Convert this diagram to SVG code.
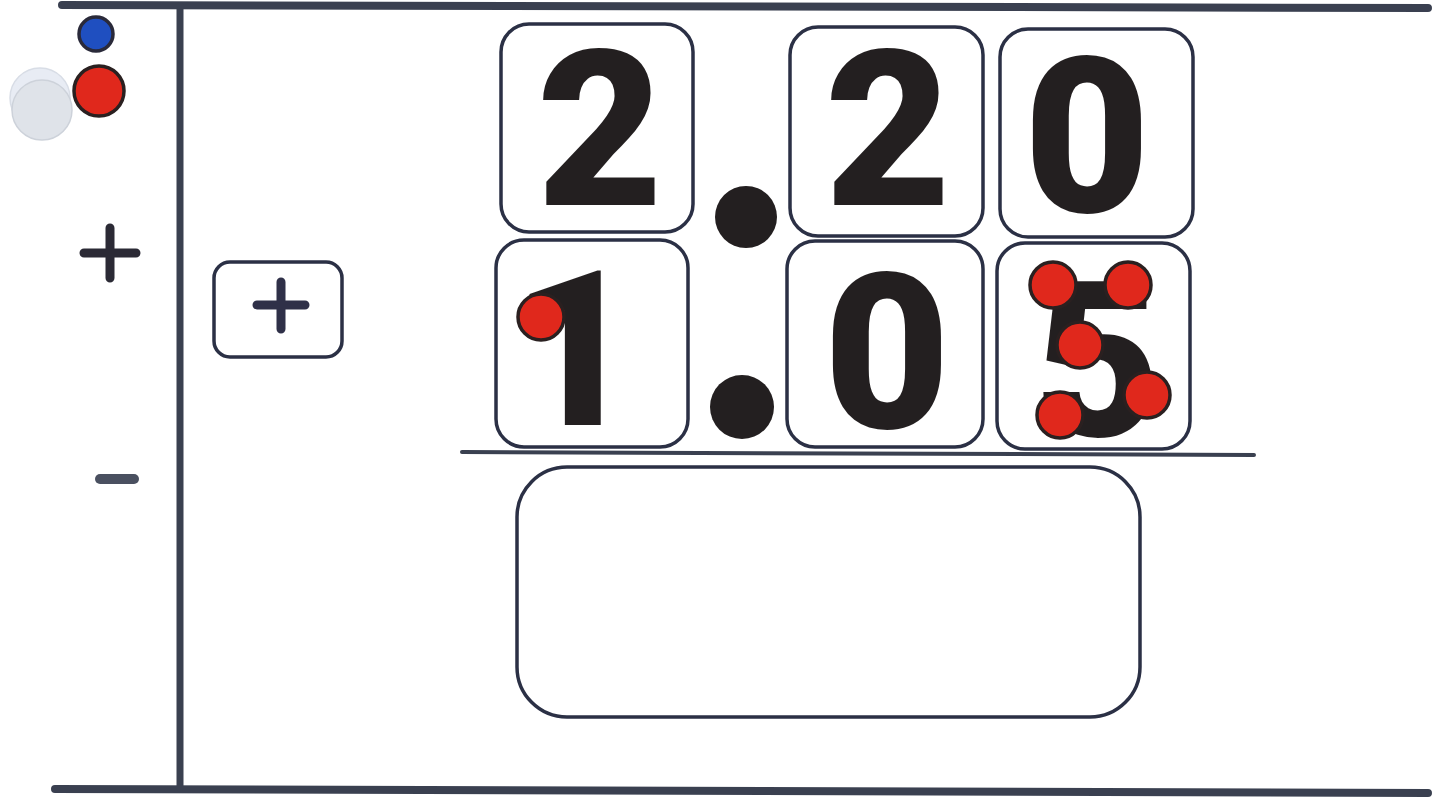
<svg xmlns="http://www.w3.org/2000/svg" width="1437" height="803" viewBox="0 0 1437 803">
<style>
.box{fill:#fff;stroke:#2b3045;stroke-width:3.5}
.dig{font-family:Roboto,"Liberation Sans",Arial,sans-serif;font-weight:900;fill:#231f20;text-anchor:middle}
.rd{fill:#e0281c;stroke:#2a2020;stroke-width:3.5}
.ln{stroke:#3a4050;stroke-linecap:round}
</style>
<rect width="1437" height="803" fill="#fff"/>
<g id="frame">
<line class="ln" x1="62" y1="5" x2="1428" y2="8" stroke-width="8"/>
<line class="ln" x1="55" y1="789" x2="1428" y2="793" stroke-width="8"/>
<line class="ln" x1="180" y1="6" x2="180" y2="788" stroke-width="7"/>
</g>
<g id="counters">
<circle cx="40" cy="98" r="30" fill="#e8ecf4" stroke="#d8dde6" stroke-width="1.5"/>
<circle cx="42" cy="110" r="30" fill="#dfe3e9" stroke="#cdd2da" stroke-width="1.5"/>
<circle cx="96" cy="34" r="17" fill="#1f4fc0" stroke="#2a2a3a" stroke-width="3.5"/>
<circle cx="99" cy="91" r="25" class="rd"/>
</g>
<g id="signs">
<path d="M84 253 H136 M110 228 V278" stroke="#2b2a35" stroke-width="9" stroke-linecap="round"/>
<path d="M100 479 H134" stroke="#4a5060" stroke-width="10" stroke-linecap="round"/>
</g>
<g id="plus-box">
<rect class="box" x="214" y="262" width="128" height="95" rx="16"/>
<path d="M257 305 H305 M281 282 V329" stroke="#2f3048" stroke-width="9" stroke-linecap="round"/>
</g>
<g id="digit-2a">
<rect class="box" x="501" y="24" width="192" height="208" rx="28"/>
<text class="dig" x="600" y="205" font-size="218">2</text>
</g>
<g id="point-top"><circle cx="746" cy="217" r="31" fill="#231f20"/></g>
<g id="digit-2b">
<rect class="box" x="790" y="27" width="193" height="209" rx="28"/>
<text class="dig" x="888" y="205" font-size="218">2</text>
</g>
<g id="digit-0a">
<rect class="box" x="1000" y="29" width="193" height="208" rx="28"/>
<text class="dig" x="1087" y="212" font-size="218">0</text>
</g>
<g id="digit-1">
<rect class="box" x="496" y="240" width="192" height="207" rx="28"/>
<text class="dig" x="575" y="425" font-size="218">1</text>
<circle cx="541" cy="317" r="23" class="rd"/>
</g>
<g id="point-bottom"><circle cx="742" cy="407" r="32" fill="#231f20"/></g>
<g id="digit-0b">
<rect class="box" x="787" y="241" width="196" height="206" rx="28"/>
<text class="dig" x="887" y="428" font-size="218">0</text>
</g>
<g id="digit-5">
<rect class="box" x="997" y="243" width="193" height="206" rx="28"/>
<text class="dig" x="1098" y="436" font-size="218">5</text>
<circle cx="1053" cy="285" r="23" class="rd"/>
<circle cx="1128" cy="285" r="23" class="rd"/>
<circle cx="1080" cy="345" r="23" class="rd"/>
<circle cx="1147" cy="395" r="23" class="rd"/>
<circle cx="1060" cy="415" r="23" class="rd"/>
</g>
<g id="sum-line"><line class="ln" x1="462" y1="452" x2="1254" y2="455" stroke-width="4"/></g>
<g id="answer-box">
<rect class="box" x="517" y="467" width="623" height="250" rx="50"/>
</g>
</svg>
